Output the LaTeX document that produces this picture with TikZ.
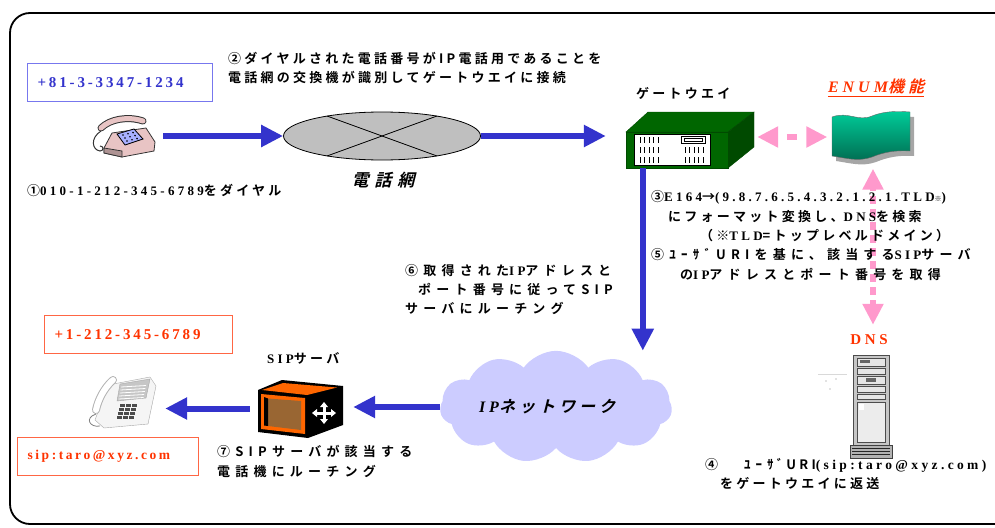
\documentclass[tikz,border=0pt]{standalone}
\usepackage{fontspec}
\usepackage{xcolor}
\usepackage{tikz}
\usetikzlibrary{arrows.meta,shapes.geometric,shapes.symbols}

\newfontfamily\jp{Noto Sans CJK JP}[BoldFont={Noto Sans CJK JP Bold},LetterSpace=25]
\newfontfamily\jpw{Noto Sans CJK JP}[BoldFont={Noto Sans CJK JP Bold},LetterSpace=40]
\newfontfamily\jpsl{Noto Sans CJK JP Bold}[FakeSlant=0.25,LetterSpace=25]
\newfontfamily\srf{Liberation Serif}[LetterSpace=25]
\newfontfamily\srn{Liberation Serif}[LetterSpace=19]
\newcommand\sr[1]{{\srf #1}}

\definecolor{arrblue}{HTML}{3333CC}
\definecolor{boxblue}{HTML}{7777EE}
\definecolor{numred}{HTML}{FF3300}
\definecolor{boxred}{HTML}{FF6644}
\definecolor{lnkpink}{HTML}{FF99CC}
\definecolor{netlav}{HTML}{CCCCFF}
\definecolor{gwgreen}{HTML}{006600}
\definecolor{gwdark}{HTML}{004A00}
\definecolor{srvorange}{HTML}{FF6600}
\definecolor{srvbrown}{HTML}{996633}
\definecolor{enumtop}{HTML}{00CC99}
\definecolor{enumbot}{HTML}{006B50}
\definecolor{phpink}{HTML}{E8C4C4}
\definecolor{dialblue}{HTML}{A8B0FF}

\begin{document}
\begin{tikzpicture}[x=1pt, y=-1pt,
  txt/.style={font=\jp\bfseries\fontsize{13}{19.3}\selectfont, align=left, anchor=west, inner sep=0pt},
  lbl/.style={font=\jp\bfseries\fontsize{13}{16}\selectfont, inner sep=0pt},
  numbox/.style={draw, line width=1.2pt, font=\srn\bfseries\fontsize{15}{18}\selectfont, align=left, anchor=north west, inner xsep=10pt, minimum height=38pt},
  flow/.style={draw=arrblue, line width=6pt, -{Triangle[length=22pt,width=21pt]}},
  link/.style={draw=lnkpink, line width=6pt, {Triangle[length=21pt,width=20pt]}-{Triangle[length=21pt,width=20pt]}},
  dev/.style 2 args={inner sep=0pt, minimum width=#1, minimum height=#2}]
\useasboundingbox (0,0) rectangle (995,527);

% outer frame
\draw[line width=1.8pt, rounded corners=20pt] (10,524) -- (10,13) -- (1015,13) -- (1015,524) -- cycle;

% rotary phone
\node[dev={60pt}{39pt}] (telA) at (125,137.5) {};
\draw[line width=1pt, black!80] (101,131) .. controls (90,138) and (92,150) .. (100,151) .. controls (104,151) and (104,146) .. (100,146);
\filldraw[fill=phpink, draw=black!80, line width=0.8pt] (104,148) -- (112,133) -- (146,128) -- (155,142) -- (154,151) -- (122,157) -- (104,153) -- cycle;
\filldraw[fill=phpink!75!black, draw=black!80, line width=0.8pt] (104,148) -- (122,151) -- (122,157) -- (104,153) -- cycle;
\filldraw[fill=dialblue, draw=black, line width=0.8pt] (117,134) -- (134,129) -- (143,139) -- (125,145) -- cycle;
\foreach \i in {0,1,2}
  \foreach \j in {0,1,2}
    \fill (123+\i*5+\j*2, 135+\j*3-\i*1.2) circle (0.9);
\draw[line width=7pt, black!80, line cap=round] (101,128) .. controls (110,119) and (128,116) .. (143,121);
\draw[line width=5pt, phpink, line cap=round] (101,128) .. controls (110,119) and (128,116) .. (143,121);

% telephone network
\node[ellipse, draw=black, line width=0.8pt, fill=gray!50, minimum width=197pt, minimum height=48pt, inner sep=0pt] (pstn) at (382,136) {};
\draw[line width=0.8pt] (327,116) -- (437,156);
\draw[line width=0.8pt] (327,156) -- (437,116);
\node[font=\jpsl\fontsize{17}{19}\selectfont, inner sep=0pt] (pstnlbl) at (383,180) {電\hspace{6pt}話\hspace{6pt}網};

% gateway box
\node[dev={128pt}{56pt}] (gw) at (690,140) {};
\filldraw[fill=gwgreen, draw=gwdark] (626,132) -- (648,112) -- (754,112) -- (728,132) -- cycle;
\filldraw[fill=gwdark, draw=gwdark] (728,132) -- (754,112) -- (754,147) -- (728,168) -- cycle;
\filldraw[fill=gwgreen, draw=gwdark] (626,132) rectangle (728,168);
\filldraw[fill=white, draw=black] (634,134) rectangle (710,165);
\foreach \r in {0,1,2}
  \foreach \b in {0,...,4}
    \draw[line width=1pt] (640+\b*4.5,137+\r*10) -- ++(0,6);
\foreach \r in {1,2}
  \foreach \b in {0,...,4}
    \draw[line width=1pt] (685+\b*4.5,137+\r*10) -- ++(0,6);
\draw (681,136) rectangle (705,143);
\draw (684,138) rectangle (702,141);
\node[lbl, anchor=west] (gwlbl) at (636,93) {ゲートウエイ};

% ENUM
\node[dev={83pt}{55pt}] (enum) at (873,137) {};
\fill[gray!70, shift={(4,5)}] (832,117) .. controls (848,111) and (858,122) .. (872,116) .. controls (884,111) and (898,111) .. (910,112) -- (910,151) .. controls (896,150) and (884,152) .. (872,157) .. controls (858,162) and (846,158) .. (832,156) -- cycle;
\path[top color=enumtop, bottom color=enumbot, draw=black!60] (832,117) .. controls (848,111) and (858,122) .. (872,116) .. controls (884,111) and (898,111) .. (910,112) -- (910,151) .. controls (896,150) and (884,152) .. (872,157) .. controls (858,162) and (846,158) .. (832,156) -- cycle;
\node[lbl, text=numred, font=\fontsize{16}{18}\selectfont] (enumlbl) at (876,86) {\sr{\bfseries\itshape ENUM}{\jpsl 機能}};
\draw[numred, line width=1.3pt] ([yshift=-3pt]enumlbl.south west) -- ([yshift=-3pt]enumlbl.south east);

% DNS server
\node[lbl, text=numred, font=\srf\bfseries\fontsize{15}{16}\selectfont] (dnslbl) at (869,340) {DNS};
\node[dev={40pt}{106pt}] (dns) at (871,405) {};
\draw[gray!30] (818,374) -- (847,374);
\fill[gray] (826,381) circle (0.6) (836,379) circle (0.6) (830,389) circle (0.6);
\filldraw[fill=gray!45, draw=gray!60!black] (853,355) rectangle (889,448);
\foreach \yy/\hh in {358/8,368/6,376/8,386/6,394/5}
  \filldraw[fill=gray!20, draw=black!70] (857,\yy) rectangle (885,\yy+\hh);
\fill[black!60] (860,360) rectangle (870,363);
\fill[black!60] (866,378) rectangle (876,382);
\filldraw[fill=gray!15, draw=black!70] (857,402) rectangle (885,442);
\fill[white] (859,404) rectangle (864,410);
\filldraw[fill=gray!60, draw=gray!50!black] (850,445) rectangle (892,458);
\foreach \yy in {448,451,454}
  \draw[gray!30!black] (852,\yy) -- (890,\yy);

% IP network
\node[cloud, cloud puffs=11, cloud puff arc=110, aspect=2.6, fill=netlav, minimum width=232pt, minimum height=90pt, inner sep=0pt, font=\fontsize{16}{18}\selectfont] (ipnet) at (556,407) {\sr{\bfseries\itshape IP}{\jpsl ネットワーク}\hspace*{18pt}};

% SIP server
\node[dev={85pt}{57pt}] (sipsrv) at (300.5,408.5) {};
\fill[black] (258,390) -- (282,380) -- (343,386) -- (343,425) -- (308,438) -- (258,432) -- cycle;
\fill[srvorange] (262,390) -- (283,383) -- (337,387.5) -- (307,395) -- cycle;
\fill[srvorange] (261,394) -- (305,398) -- (305,434) -- (261,429) -- cycle;
\fill[srvbrown] (268,398.5) -- (301,401) -- (301,430) -- (268,426) -- cycle;
\fill[black] (264,397) -- (268,398.5) -- (268,426) -- (264,425.5) -- cycle;
\fill[white] (324,402) -- (320,407) -- (328,407) -- cycle;
\fill[white] (324,424) -- (320,419) -- (328,419) -- cycle;
\fill[white] (312,413) -- (317,409) -- (317,417) -- cycle;
\fill[white] (336,413) -- (331,409) -- (331,417) -- cycle;
\fill[white] (322.5,406) rectangle (325.5,420);
\fill[white] (316,411.5) rectangle (332,414.5);
\node[lbl, anchor=west] (siplbl) at (267,358) {\sr{SIP}サーバ};

% office phone
\node[dev={69pt}{51pt}] (telB) at (120.5,402.5) {};
\filldraw[fill=gray!8, draw=gray!70] (95,420) -- (108,385) -- (150,377) -- (156,386) -- (148,424) -- (104,428) -- cycle;
\filldraw[fill=gray!45, draw=gray!70] (120,384) -- (150,379) -- (146,398) -- (117,401) -- cycle;
\foreach \k in {0,...,4}
  \draw[white, line width=0.8pt] (121-\k*0.6,387+\k*3) -- ++(25,-1.5);
\foreach \i in {0,1,2}
  \foreach \j in {0,1,2,3}
    \fill[black!70] (120+\i*6-\j*1,404+\j*4) rectangle ++(4.5,2.5);
\draw[line width=8pt, gray!60, line cap=round] (113,380) .. controls (104,388) and (98,400) .. (96,410);
\draw[line width=6pt, white, line cap=round] (113,380) .. controls (104,388) and (98,400) .. (96,410);
\draw[gray, line width=0.8pt] (96,414) .. controls (84,418) and (90,428) .. (100,426);

% number boxes
\node[numbox, draw=boxblue, text=arrblue, text width=165pt] (numjp) at (27,63) {+81-3-3347-1234};
\node[numbox, draw=boxred, text=numred, text width=168pt] (numus) at (44,315) {+1-212-345-6789};
\node[numbox, draw=boxred, text=numred, text width=161pt, font=\srn\bfseries\fontsize{13.5}{16}\selectfont] (sipuri) at (17,437) {sip:taro@xyz.com};

% call flow
\draw[flow, shorten <=8pt] (telA.east |- pstn.west) -- (pstn.west);
\draw[flow, shorten >=20pt] (pstn.east) -- (pstn.east -| gw.west);
\draw[flow] ([xshift=17pt]gw.south west) -- ([xshift=17pt]gw.south west |- ipnet.north);
\draw[flow, shorten >=10pt] (ipnet.west) -- (ipnet.west -| sipsrv.east);
\draw[flow, shorten <=8pt, shorten >=10pt] (sipsrv.west) -- (sipsrv.west -| telB.east);

% ENUM / DNS lookups
\draw[link, dash pattern=on 10pt off 10pt, dash phase=10pt, shorten <=3pt, shorten >=4pt] (gw.east |- enum.west) -- (enum.west);
\draw[link, dash pattern=on 8pt off 5pt, dash phase=5pt, shorten <=4pt, shorten >=10pt] (enum.south) -- (enum.south |- dnslbl.north);

% steps
\node[txt] (st1) at (27,190) {①\sr{010-1-212-345-6789}をダイヤル};
\node[txt] (st2) at (228,68) {②ダイヤルされた電話番号がIP電話用であることを\\電話網の交換機が識別してゲートウエイに接続};
\node[txt] (st3) at (651,235.5) {③\sr{E164}→\sr{(9.8.7.6.5.4.3.2.1.2.1.TLD}{\fontsize{7}{7}\selectfont ※}\sr{)}\\
  \hspace*{17pt}にフォーマット変換し、\sr{DNS}を検索\\
  \hspace*{49pt}（※\sr{TLD}=トップレベルドメイン）\\
  {\jpw ⑤ﾕｰｻﾞURIを基に、該当する}\sr{SIP}{\jpw サーバ}\\
  \hspace*{29pt}{\jpw の}\sr{IP}{\jpw アドレスとポート番号を取得}};
\node[txt, font=\jpw\bfseries\fontsize{13}{19.3}\selectfont] (st6) at (405,289.5) {⑥取得された\sr{IP}アドレスと\\\hspace*{13pt}ポート番号に従ってSIP\\サーバにルーチング};
\node[txt, font=\jpw\bfseries\fontsize{13}{19.3}\selectfont] (st7) at (217,461.5) {⑦SIPサーバが該当する\\電話機にルーチング};
\node[txt] (st4) at (705,474) {④\hspace{26pt}ﾕ\kern5ptｰ\kern5ptｻﾞ\kern3pt URI{\fontsize{13.5}{19.3}\selectfont\sr{(sip:taro@xyz.com)}}\\\hspace*{15pt}をゲートウエイに返送};
\end{tikzpicture}
\end{document}
